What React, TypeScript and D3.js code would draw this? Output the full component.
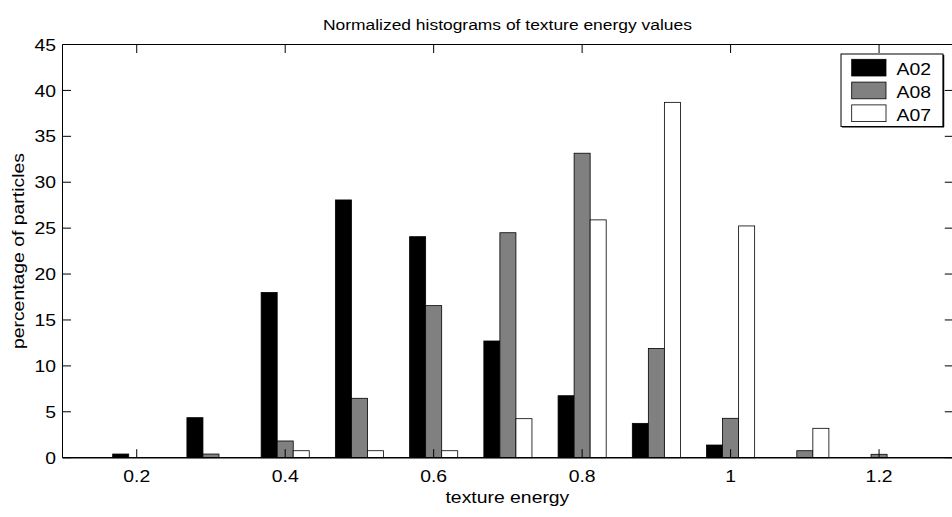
import React from "react";
import * as d3 from "d3";

const bins = [0.2, 0.3, 0.4, 0.5, 0.6, 0.7, 0.8, 0.9, 1.0, 1.1, 1.2];
const seriesNames = ["A02", "A08", "A07"];
const a02 = [0.4, 4.36, 18.0, 28.07, 24.07, 12.71, 6.75, 3.74, 1.38, 0, 0];
const a08 = [0, 0.4, 1.82, 6.47, 16.56, 24.5, 33.16, 11.9, 4.29, 0.76, 0.37];
const a07 = [0, 0, 0.76, 0.76, 0.76, 4.25, 25.9, 38.7, 25.24, 3.2, 0];
const seriesColors = ["#000000", "#808080", "#ffffff"];
const yTicks = [0, 5, 10, 15, 20, 25, 30, 35, 40, 45];
const xTicks = [0.2, 0.4, 0.6, 0.8, 1.0, 1.2];
const xTickLabels = ["0.2", "0.4", "0.6", "0.8", "1", "1.2"];

const W = 952;
const H = 517;
const FONT = "'Liberation Sans', Arial, Helvetica, sans-serif";
const SX = 1.14;

function T({ x, y, anchor = "start", size = 17, rotate = 0, children }: any) {
  return (
    <text
      transform={`translate(${x},${y}) rotate(${rotate}) scale(${SX},1)`}
      textAnchor={anchor}
      fontSize={size}
    >
      {children}
    </text>
  );
}

export default function App() {
  const x = d3.scaleLinear().domain([0.1, 1.3]).range([62.5, 953.3]);
  const y = d3.scaleLinear().domain([0, 45]).range([457.7, 44.5]);
  const left = x(0.1);
  const right = x(1.3);
  const top = y(45);
  const bottom = y(0);
  const bw = x(0.1216) - x(0.1);
  const data = [a02, a08, a07];
  const tickLen = 8.5;

  return (
    <svg
      width={W}
      height={H}
      style={{ position: "absolute", left: 0, top: 0, background: "#fff" }}
      fontFamily={FONT}
    >
      <rect x={0} y={0} width={W} height={H} fill="#fff" />
      {data.map((vals, si) =>
        vals.map((v, i) => {
          const cx = x(bins[i]) + (si - 1) * bw;
          const h = bottom - y(v);
          return (
            <rect
              key={`${si}-${i}`}
              x={cx - bw / 2}
              y={y(v)}
              width={bw}
              height={Math.max(h, 0)}
              fill={seriesColors[si]}
              stroke="#000"
              strokeWidth={0.8}
            />
          );
        })
      )}
      <line x1={left} x2={right} y1={bottom} y2={bottom} stroke="#000" strokeWidth={1.5} />
      <line x1={left} x2={right} y1={top} y2={top} stroke="#000" strokeWidth={1} />
      <line x1={left} x2={left} y1={top} y2={bottom} stroke="#000" strokeWidth={1} />
      <line x1={right} x2={right} y1={top} y2={bottom} stroke="#000" strokeWidth={1} />
      {yTicks.map((t) => (
        <g key={`y${t}`}>
          <line x1={left} x2={left + tickLen} y1={y(t)} y2={y(t)} stroke="#000" strokeWidth={1} />
          <line x1={right} x2={right - tickLen} y1={y(t)} y2={y(t)} stroke="#000" strokeWidth={1} />
          <T x={left - 6.5} y={y(t) + 6.1} anchor="end">
            {t}
          </T>
        </g>
      ))}
      {xTicks.map((t, i) => (
        <g key={`x${t}`}>
          <line x1={x(t)} x2={x(t)} y1={bottom} y2={bottom - tickLen} stroke="#000" strokeWidth={1} />
          <line x1={x(t)} x2={x(t)} y1={top} y2={top + tickLen} stroke="#000" strokeWidth={1} />
          <T x={x(t)} y={481.7} anchor="middle">
            {xTickLabels[i]}
          </T>
        </g>
      ))}
      <T x={(left + right) / 2 - 0.5} y={30} anchor="middle" size={15.3}>
        Normalized histograms of texture energy values
      </T>
      <T x={(left + right) / 2 - 0.5} y={503} anchor="middle">
        texture energy
      </T>
      <T x={24} y={(top + bottom) / 2} anchor="middle" rotate={-90}>
        percentage of particles
      </T>
      <g>
        <rect x={841} y={54} width={102} height={72.5} fill="#fff" stroke="#000" strokeWidth={1} />
        <line x1={943.5} x2={943.5} y1={55} y2={127} stroke="#000" strokeWidth={1.5} />
        <line x1={842} x2={944} y1={126.8} y2={126.8} stroke="#000" strokeWidth={1.5} />
        {seriesNames.map((n, i) => (
          <g key={n}>
            <rect
              x={851.7}
              y={59.3 + i * 22.8}
              width={34.3}
              height={16.7}
              fill={seriesColors[i]}
              stroke="#000"
              strokeWidth={0.8}
            />
            <T x={896.5} y={59.3 + i * 22.8 + 15.7}>
              {n}
            </T>
          </g>
        ))}
      </g>
    </svg>
  );
}
